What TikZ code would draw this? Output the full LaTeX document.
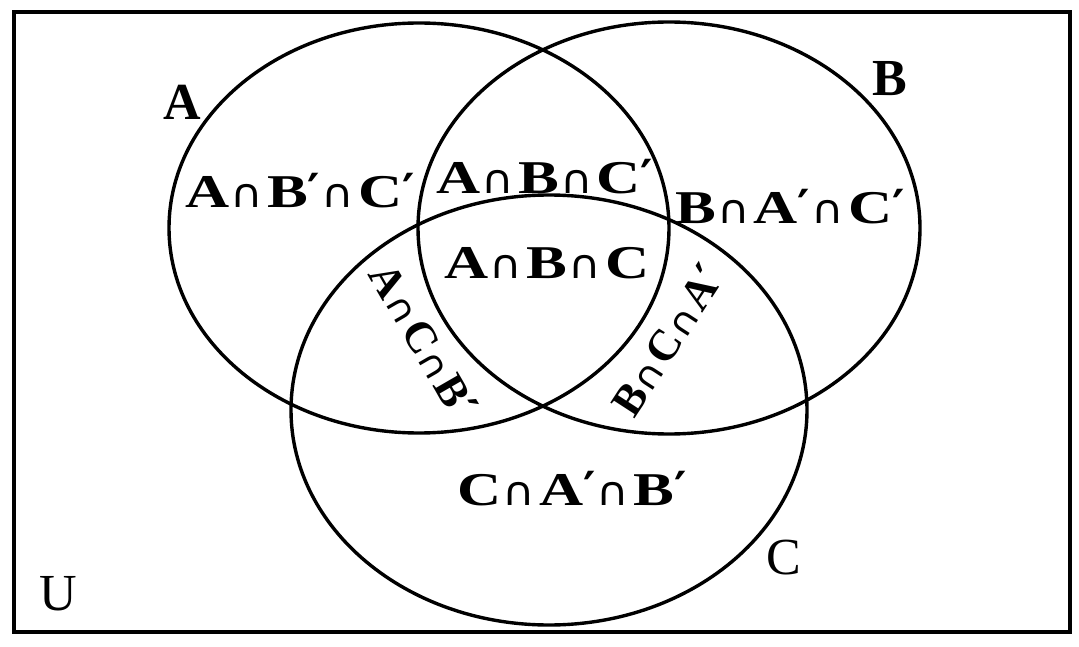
\documentclass[tikz,border=0pt]{standalone}
\usepackage{fontspec}
\usepackage{graphicx}
\setmainfont{Liberation Serif}
\newfontfamily\wide[FakeStretch=1.3]{Liberation Serif}
\newfontfamily\symf{DejaVu Sans}
\newcommand\ic{\kern1pt\scalebox{0.95}[0.85]{\mdseries\symf ∩}\kern4pt}
\newcommand\ics{\kern0.5pt\scalebox{0.9}[0.8]{\mdseries\symf ∩}\kern3pt}
\newcommand\prm{{\symf ′}}
\begin{document}
\begin{tikzpicture}[x=1pt,y=-1pt,
  ring/.style={line width=3.4pt},
  frame/.style={line width=3.8pt},
  lab/.style={inner sep=0pt,anchor=base,font=\wide\bfseries\fontsize{47}{50}\selectfont},
  rlab/.style={inner sep=0pt,font=\bfseries\fontsize{44}{48}\selectfont},
  setname/.style={inner sep=0pt,font=\fontsize{52}{56}\selectfont}]
\useasboundingbox[fill=white] (0,0) rectangle (1079,647);
\draw[frame] (14,12) rectangle (1070,632);
\draw[ring] (419,228) ellipse [x radius=250pt, y radius=205pt];
\draw[ring] (669,228) ellipse [x radius=251pt, y radius=206pt];
\draw[ring] (549,410) ellipse [x radius=258pt, y radius=215pt];
\node[setname,font=\bfseries\fontsize{52}{56}\selectfont] (lA) at (182,102) {A};
\node[setname,font=\bfseries\fontsize{52}{56}\selectfont] (lB) at (890,79) {B};
\node[setname] (lC) at (784,558) {C};
\node[setname] (lU) at (58,594) {U};
\node[lab] (r1) at (300,208) {A\ic B\prm\ic C\prm};
\node[lab] (r2) at (545,194) {A\ic B\ic C\prm};
\node[lab] (r3) at (790,224) {B\ic A\prm\ic C\prm};
\node[lab] (r4) at (547,278) {A\ic B\ic C};
\node[lab] (r5) at (572,505) {C\ic A\prm\ic B\prm};
\node[rlab,rotate=-60] (r6) at (424,340) {A\ics C\ics B\prm};
\node[rlab,rotate=57] (r7) at (667,340) {B\ics C\ics A\prm};
\end{tikzpicture}
\end{document}
